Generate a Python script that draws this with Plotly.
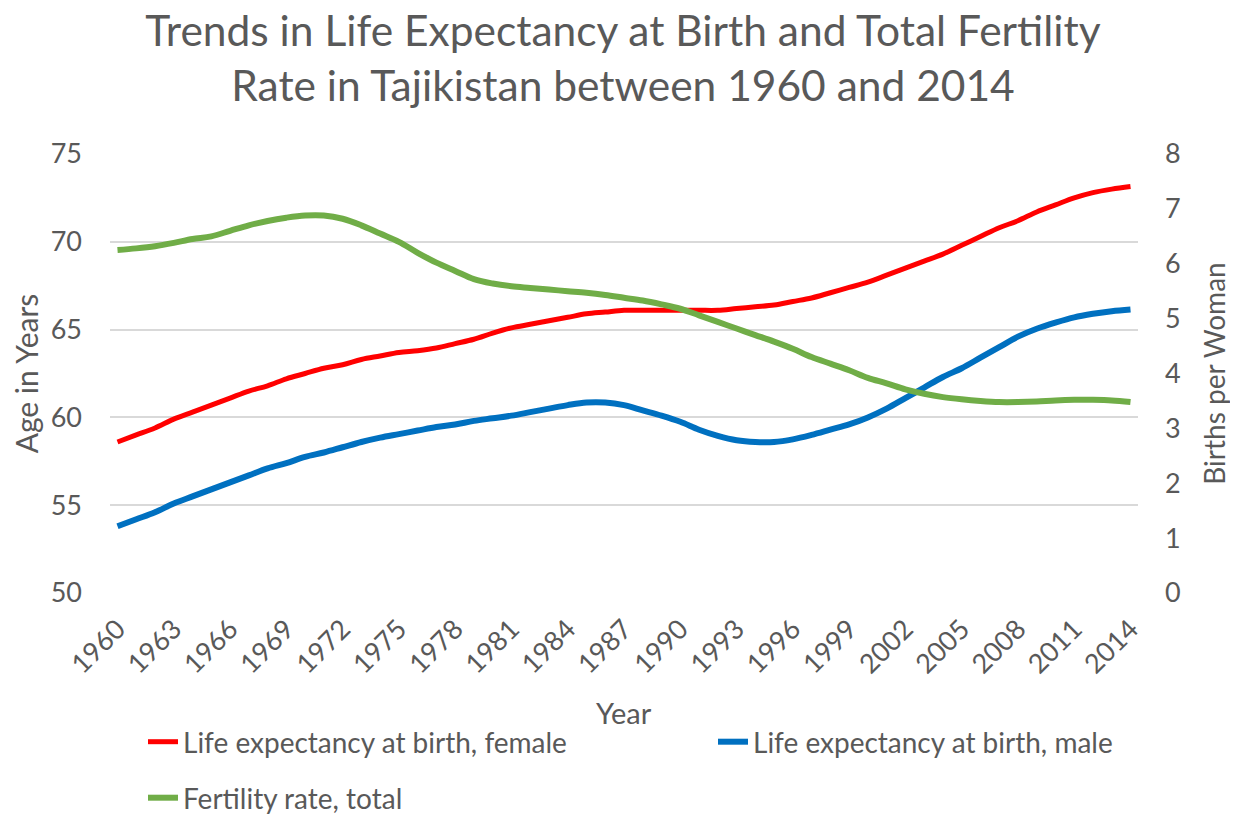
import plotly.graph_objects as go

years = list(range(1960, 2015))

female = [58.6, 59.0, 59.4, 59.9, 60.3, 60.7, 61.1, 61.5, 61.8, 62.2,
          62.5, 62.8, 63.0, 63.3, 63.5, 63.7, 63.8, 63.95, 64.2, 64.45,
          64.8, 65.1, 65.3, 65.5, 65.7, 65.9, 66.0, 66.1, 66.1, 66.1,
          66.1, 66.1, 66.1, 66.2, 66.3, 66.4, 66.6, 66.8, 67.1, 67.4,
          67.7, 68.1, 68.5, 68.9, 69.3, 69.8, 70.3, 70.8, 71.2, 71.7,
          72.1, 72.5, 72.8, 73.0, 73.15]

male = [53.8, 54.2, 54.6, 55.1, 55.5, 55.9, 56.3, 56.7, 57.1, 57.4,
        57.75, 58.0, 58.3, 58.6, 58.85, 59.05, 59.25, 59.45, 59.6, 59.8,
        59.95, 60.1, 60.3, 60.5, 60.7, 60.85, 60.85, 60.7, 60.4, 60.1,
        59.75, 59.3, 58.95, 58.7, 58.6, 58.6, 58.75, 59.0, 59.3, 59.6,
        60.0, 60.5, 61.1, 61.7, 62.3, 62.8, 63.4, 64.0, 64.6, 65.05,
        65.4, 65.7, 65.9, 66.05, 66.15]

fertility = [6.25, 6.28, 6.32, 6.38, 6.45, 6.5, 6.6, 6.7, 6.78, 6.84,
             6.88, 6.88, 6.82, 6.7, 6.55, 6.4, 6.2, 6.02, 5.87, 5.72,
             5.64, 5.59, 5.56, 5.53, 5.5, 5.47, 5.43, 5.38, 5.33, 5.26,
             5.18, 5.06, 4.94, 4.82, 4.7, 4.58, 4.45, 4.3, 4.18, 4.06,
             3.92, 3.82, 3.71, 3.63, 3.57, 3.53, 3.5, 3.48, 3.48, 3.49,
             3.51, 3.52, 3.52, 3.51, 3.48]

tick_years = [1960, 1963, 1966, 1969, 1972, 1975, 1978, 1981, 1984, 1987,
              1990, 1993, 1996, 1999, 2002, 2005, 2008, 2011, 2014]
left_ticks = [50, 55, 60, 65, 70, 75]
right_ticks = [0, 1, 2, 3, 4, 5, 6, 7, 8]

FONT = "Lato"
GREY = "#595959"
W, H = 1230, 806  # page has an 8px body margin


def cy(page_y):
    return 1 - (page_y - 8) / H


def cx(page_x):
    return (page_x - 8) / W


fig = go.Figure()
fig.add_trace(go.Scatter(x=years, y=female, mode="lines", line_shape="spline",
                         name="Life expectancy at birth, female", legend="legend",
                         showlegend=True,
                         line=dict(color="#FF0000", width=5)))
fig.add_trace(go.Scatter(x=years, y=male, mode="lines", line_shape="spline",
                         name="Life expectancy at birth, male", legend="legend3",
                         showlegend=True,
                         line=dict(color="#0070C0", width=6)))
fig.add_trace(go.Scatter(x=years, y=fertility, mode="lines", line_shape="spline",
                         name="Fertility rate, total", yaxis="y2", legend="legend2",
                         showlegend=True,
                         line=dict(color="#70AD47", width=6)))

leg_common = dict(orientation="h", xanchor="left", xref="container",
                  yanchor="middle", yref="container",
                  font=dict(size=28, color=GREY), bgcolor="rgba(0,0,0,0)")

fig.update_layout(
    width=W, height=H, showlegend=True,
    paper_bgcolor="white", plot_bgcolor="white",
    margin=dict(l=102, r=100, t=146, b=221, autoexpand=False),
    font=dict(family=FONT, color=GREY, size=26),
    title=dict(text="Trends in Life Expectancy at Birth and Total Fertility<br>Rate in Tajikistan between 1960 and 2014",
               x=0.5, xanchor="center", xref="container",
               y=1 - 38 / H, yanchor="middle", yref="container",
               font=dict(family=FONT, size=42.5, color=GREY)),
    xaxis=dict(range=[1959.6, 2014.4], tickmode="array", tickvals=tick_years,
               ticktext=[str(t) for t in tick_years], tickangle=-45,
               showgrid=False, zeroline=False, showline=False, automargin=False,
               tickfont=dict(size=27, color=GREY), ticklabelstandoff=14),
    yaxis=dict(range=[50, 75], tickvals=left_ticks, showgrid=True,
               gridcolor="#D9D9D9", gridwidth=2, zeroline=False, showline=False,
               automargin=False,
               tickfont=dict(size=27, color=GREY), ticklabelstandoff=27,
               title=dict(text="Age in Years", font=dict(size=30, color=GREY), standoff=12)),
    yaxis2=dict(range=[0, 8], tickvals=right_ticks, overlaying="y", side="right",
                showgrid=False, zeroline=False, showline=False, automargin=False,
                tickfont=dict(size=27, color=GREY), ticklabelstandoff=26,
                title=dict(text="Births per Woman", font=dict(size=28, color=GREY), standoff=25)),
    legend=dict(x=cx(143), y=cy(742), **leg_common),
    legend3=dict(x=cx(713), y=cy(742), **leg_common),
    legend2=dict(x=cx(143), y=cy(798), **leg_common),
    annotations=[dict(text="Year", xref="paper", x=0.5, xanchor="center",
                      yref="paper", y=-(712 - 8 - 146 - 439) / 439, yanchor="middle",
                      showarrow=False, font=dict(size=29, color=GREY))],
)

fig.write_html("out.html")
